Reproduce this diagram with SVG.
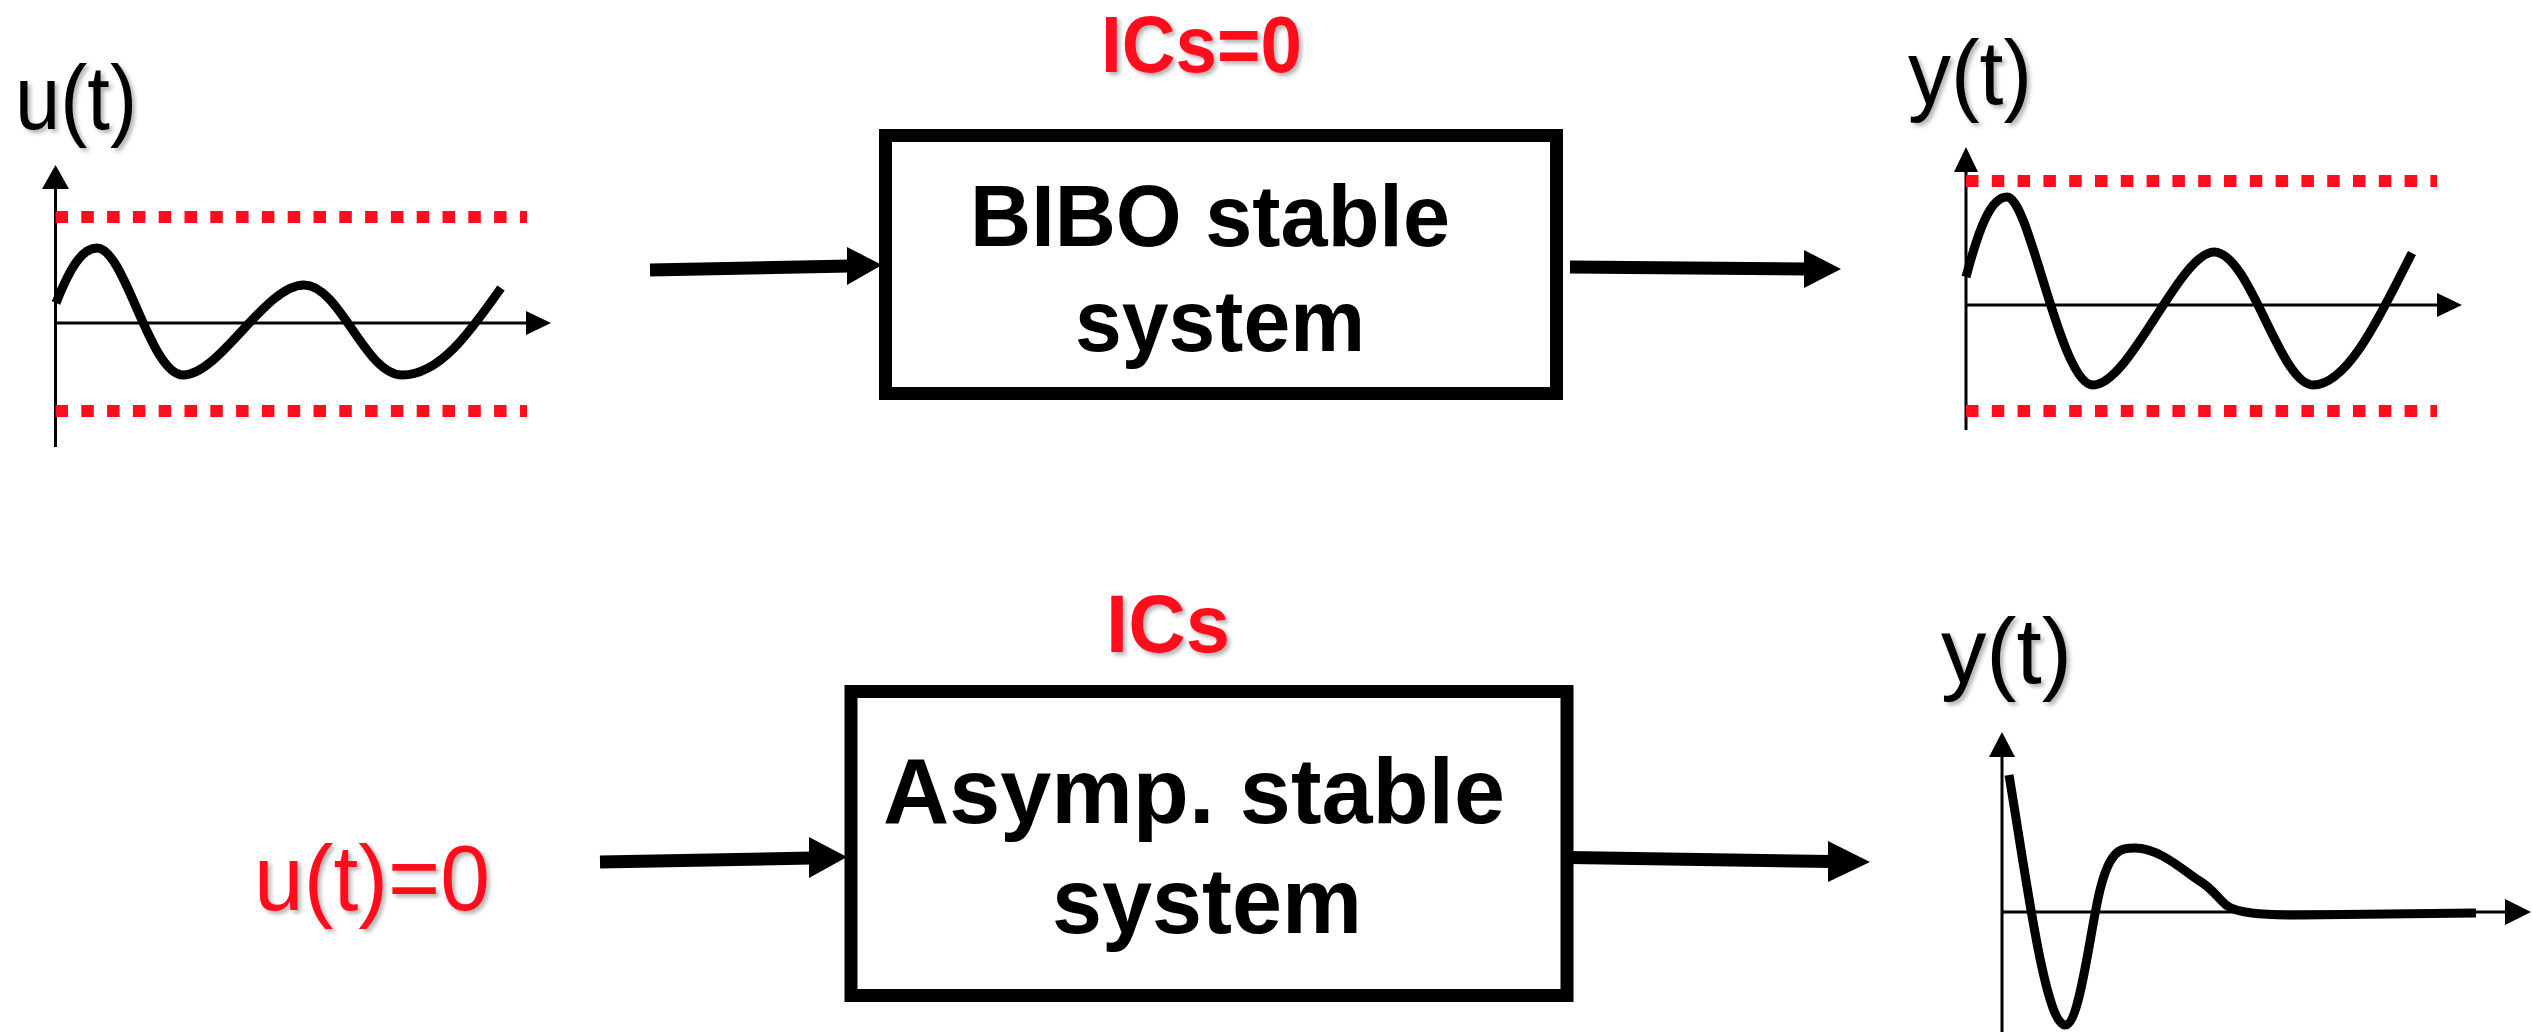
<svg xmlns="http://www.w3.org/2000/svg" width="2532" height="1032" viewBox="0 0 2532 1032">
<defs>
<filter id="sh" x="-10%" y="-10%" width="130%" height="140%">
<feDropShadow dx="3" dy="3" stdDeviation="2" flood-color="#000" flood-opacity="0.3"/>
</filter>
</defs>
<style>
.lbl{font-family:"Liberation Sans",Arial,sans-serif;fill:#000;filter:url(#sh)}
.red{font-family:"Liberation Sans",Arial,sans-serif;fill:#ff0d1f;filter:url(#sh)}
.redb{font-family:"Liberation Sans",Arial,sans-serif;font-weight:bold;fill:#ff0d1f;filter:url(#sh)}
.box{fill:#fff;stroke:#000;stroke-width:13}
.btxt{font-family:"Liberation Sans",Arial,sans-serif;font-weight:bold;fill:#000}
.axis{stroke:#000;stroke-width:3;fill:none}
.head{fill:#000}
.bound{stroke:#ff0d1f;stroke-width:12;stroke-dasharray:12.5 13.3;fill:none}
.wave{stroke:#000;stroke-width:9;fill:none;stroke-linecap:butt;stroke-linejoin:round}
.conn{stroke:#000;stroke-width:13;fill:none}
</style>
<rect width="2532" height="1032" fill="#fff"/>

<g id="input-signal-u">
<text class="lbl" x="15" y="129" font-size="90" textLength="122" lengthAdjust="spacingAndGlyphs">u(t)</text>
<line class="axis" x1="55.5" y1="185" x2="55.5" y2="447"/>
<polygon class="head" points="55.5,165 42,189 69,189"/>
<line class="axis" x1="55.5" y1="323" x2="530" y2="323"/>
<polygon class="head" points="551,323 526,311 526,335"/>
<line class="bound" x1="55.5" y1="217" x2="527" y2="217"/>
<line class="bound" x1="55.5" y1="411" x2="527" y2="411"/>
<path class="wave" d="M56,303 C70,268 82,248 97,248 C125,248 150,375 183,375 C220,375 265,285 304,285 C340,285 365,375 402,375 C440,375 470,332 501,288"/>
</g>

<g id="ics-zero-label">
<text class="redb" x="1101" y="72" font-size="80" textLength="201" lengthAdjust="spacingAndGlyphs">ICs=0</text>
</g>

<g id="bibo-system">
<rect class="box" x="885.5" y="135.5" width="671" height="258"/>
<text class="btxt" x="970" y="246" font-size="88" textLength="480" lengthAdjust="spacingAndGlyphs">BIBO stable</text>
<text class="btxt" x="1075" y="351" font-size="88" textLength="290" lengthAdjust="spacingAndGlyphs">system</text>
</g>

<g id="output-signal-y-bounded">
<text class="lbl" x="1908" y="104" font-size="90" textLength="124" lengthAdjust="spacingAndGlyphs">y(t)</text>
<line class="axis" x1="1966" y1="168" x2="1966" y2="430"/>
<polygon class="head" points="1966,147 1954,172 1978,172"/>
<line class="axis" x1="1966" y1="305" x2="2440" y2="305"/>
<polygon class="head" points="2462,305 2437,293 2437,317"/>
<line class="bound" x1="1966" y1="181" x2="2437" y2="181"/>
<line class="bound" x1="1966" y1="411" x2="2437" y2="411"/>
<path class="wave" d="M1966,277 C1978,232 1990,197 2007,197 C2030,197 2060,385 2093,385 C2130,385 2180,252 2214,252 C2250,252 2280,385 2313,385 C2350,385 2385,305 2412,253"/>
</g>

<g id="ics-label">
<text class="redb" x="1106" y="652" font-size="82" textLength="124" lengthAdjust="spacingAndGlyphs">ICs</text>
</g>

<g id="zero-input-label">
<text class="red" x="254" y="910" font-size="92" textLength="236" lengthAdjust="spacingAndGlyphs">u(t)=0</text>
</g>

<g id="asymp-system">
<rect class="box" x="851" y="691.5" width="716" height="304"/>
<text class="btxt" x="883" y="823" font-size="92" textLength="622" lengthAdjust="spacingAndGlyphs">Asymp. stable</text>
<text class="btxt" x="1052" y="933" font-size="92" textLength="310" lengthAdjust="spacingAndGlyphs">system</text>
</g>

<g id="output-signal-y-decay">
<text class="lbl" x="1941" y="683" font-size="92" textLength="131" lengthAdjust="spacingAndGlyphs">y(t)</text>
<line class="axis" x1="2002" y1="752" x2="2002" y2="1032"/>
<polygon class="head" points="2002,732 1989,757 2015,757"/>
<line class="axis" x1="2002" y1="912" x2="2510" y2="912"/>
<polygon class="head" points="2531,912 2505,899 2505,925"/>
<path class="wave" d="M2009,775 C2025,870 2045,1025 2065,1025 C2080,1025 2090,930 2100,890 C2110,850 2120,848 2135,848 C2160,848 2185,872 2198,880 C2212,888 2216,896 2226,905 C2236,913 2260,915 2300,915 L2476,913"/>
</g>

<g id="connectors">
<line class="conn" x1="650" y1="270" x2="850" y2="266"/>
<polygon class="head" points="847,247 882,265 847,285"/>
<line class="conn" x1="1570" y1="267" x2="1807" y2="269"/>
<polygon class="head" points="1804,250 1841,269 1804,288"/>
<line class="conn" x1="600" y1="862" x2="812" y2="858"/>
<polygon class="head" points="809,837 847,857 809,878"/>
<line class="conn" x1="1570" y1="857.5" x2="1831" y2="861.5"/>
<polygon class="head" points="1828,841 1870,862 1828,882"/>
</g>
</svg>
